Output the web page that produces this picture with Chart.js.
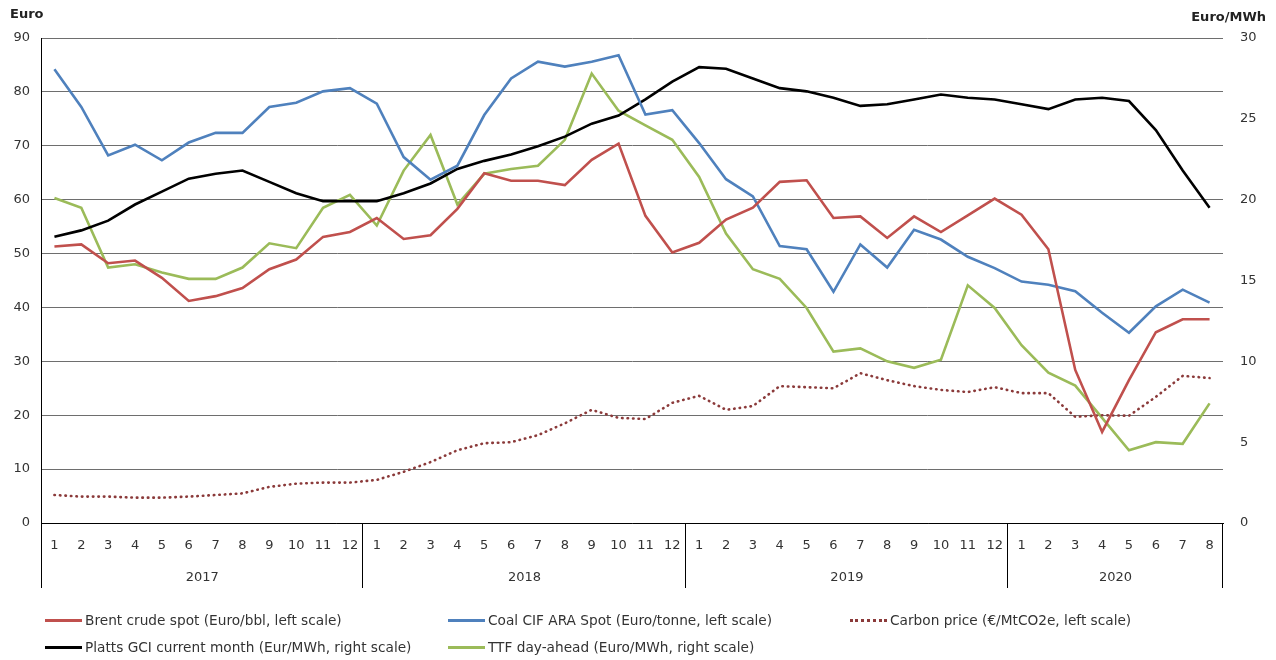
<!DOCTYPE html>
<html>
<head>
<meta charset="utf-8">
<script src="https://cdn.jsdelivr.net/npm/chart.js@4.4.0/dist/chart.umd.min.js"></script>
<style>
  body { margin: 0; background: #fff; }
  #wrap { position: relative; width: 1276px; height: 660px; }
  #legend { position: absolute; left: 0; top: 0; width: 1276px; height: 660px; pointer-events: none;
            font-family: "DejaVu Sans"; font-size: 13.7px; color: #333; }
  .item { position: absolute; display: flex; align-items: center; white-space: nowrap; transform: translateY(-50%); }
  .swatch { width: 37px; height: 0; margin-right: 3px; }
</style>
</head>
<body>
<div id="wrap">
  <canvas id="chart" width="1276" height="660"></canvas>
  <div id="legend"></div>
</div>
<script>
// months 2017-01 .. 2020-08
const monthLabels = ['1','2','3','4','5','6','7','8','9','10','11','12',
                     '1','2','3','4','5','6','7','8','9','10','11','12',
                     '1','2','3','4','5','6','7','8','9','10','11','12',
                     '1','2','3','4','5','6','7','8']
const years = ['2017', '2018', '2019', '2020']
const monthsPerYear = [12, 12, 12, 8]

// left scale (Euro)
const brent = [51.3, 51.7, 48.2, 48.7, 45.5, 41.2, 42.1, 43.6, 47.1, 48.9, 53.1, 54.0,
               56.6, 52.7, 53.4, 58.3, 64.9, 63.5, 63.5, 62.7, 67.4, 70.4, 57.0, 50.2,
               52.0, 56.3, 58.5, 63.3, 63.6, 56.6, 56.9, 52.9, 56.9, 54.0, 57.1, 60.2,
               57.2, 50.8, 28.4, 16.9, 26.5, 35.4, 37.8, 37.8]
const coal = [84.2, 77.2, 68.2, 70.2, 67.3, 70.6, 72.4, 72.4, 77.2, 78.0, 80.1, 80.7,
              77.8, 67.9, 63.7, 66.3, 75.7, 82.5, 85.6, 84.7, 85.6, 86.8, 75.8, 76.6,
              70.5, 63.8, 60.6, 51.4, 50.8, 42.9, 51.7, 47.4, 54.4, 52.6, 49.4, 47.3,
              44.8, 44.2, 43.0, 39.0, 35.3, 40.2, 43.3, 40.9]
const carbon = [5.2, 4.9, 4.9, 4.7, 4.7, 4.9, 5.2, 5.5, 6.7, 7.3, 7.5, 7.5,
                8.0, 9.5, 11.3, 13.5, 14.8, 15.0, 16.3, 18.5, 21.0, 19.5, 19.3, 22.3,
                23.6, 21.0, 21.7, 25.4, 25.2, 25.0, 27.8, 26.5, 25.4, 24.7, 24.3, 25.2,
                24.1, 24.1, 19.7, 20.0, 19.9, 23.4, 27.3, 26.9]
// right scale (Euro/MWh)
const gci = [17.7, 18.1, 18.7, 19.7, 20.5, 21.3, 21.6, 21.8, 21.1, 20.4, 19.9, 19.9,
             19.9, 20.4, 21.0, 21.9, 22.4, 22.8, 23.3, 23.9, 24.7, 25.2, 26.2, 27.3,
             28.2, 28.1, 27.5, 26.9, 26.7, 26.3, 25.8, 25.9, 26.2, 26.5, 26.3, 26.2,
             25.9, 25.6, 26.2, 26.3, 26.1, 24.3, 21.8, 19.5]
const ttf = [20.1, 19.5, 15.8, 16.0, 15.5, 15.1, 15.1, 15.8, 17.3, 17.0, 19.5, 20.3,
             18.4, 21.8, 24.0, 19.7, 21.6, 21.9, 22.1, 23.7, 27.8, 25.5, 24.6, 23.7,
             21.4, 17.9, 15.7, 15.1, 13.3, 10.6, 10.8, 10.0, 9.6, 10.1, 14.7, 13.3,
             11.0, 9.3, 8.5, 6.5, 4.5, 5.0, 4.9, 7.4]

const leftTitle = 'Euro'
const rightTitle = 'Euro/MWh'

const FONT = 'DejaVu Sans'
const TXT = '#333'

const mkLine = (label, data, color, axis, dash) => ({
    label, data,
    yAxisID: axis,
    borderColor: color,
    backgroundColor: color,
    borderWidth: 2.6,
    borderDash: dash || [],
    borderCapStyle: dash ? 'round' : 'butt',
    pointRadius: 0,
    tension: 0,
    fill: false
})

const datasets = [
    mkLine('Brent crude spot (Euro/bbl, left scale)', brent, '#C0504D', 'y'),
    mkLine('Coal CIF ARA Spot (Euro/tonne, left scale)', coal, '#4F81BD', 'y'),
    mkLine('Carbon price (€/MtCO2e, left scale)', carbon, '#8B3A3A', 'y', [0.5, 5]),
    mkLine('Platts GCI current month (Eur/MWh, right scale)', gci, '#000000', 'y1'),
    mkLine('TTF day-ahead (Euro/MWh, right scale)', ttf, '#9BBB59', 'y1')
]

// legend slots: [left, centre y]
const legendSlots = [[45, 620], [448, 620], [850, 620], [45, 647], [448, 647]]

const decor = {
    id: 'decor',
    afterDraw(chart) {
        const { ctx, chartArea: a, scales: { x } } = chart
        const step = x.getPixelForValue(1) - x.getPixelForValue(0)
        const bottom = a.bottom + 65
        ctx.save()
        ctx.strokeStyle = '#000'
        ctx.lineWidth = 1
        ctx.fillStyle = TXT
        ctx.font = `13px "${FONT}"`
        ctx.textAlign = 'center'
        ctx.textBaseline = 'middle'
        ctx.beginPath()
        ctx.moveTo(Math.round(a.left) + 0.5, a.bottom)
        ctx.lineTo(Math.round(a.left) + 0.5, bottom)
        let start = 0
        years.forEach((yr, k) => {
            const n = monthsPerYear[k]
            const xr = Math.round(x.getPixelForValue(start + n - 1) + step / 2) - 0.5
            ctx.moveTo(xr, a.bottom)
            ctx.lineTo(xr, bottom)
            const xc = (x.getPixelForValue(start) + x.getPixelForValue(start + n - 1)) / 2
            ctx.fillText(yr, xc, a.bottom + 55)
            start += n
        })
        ctx.stroke()

        ctx.font = `bold 13px "${FONT}"`
        ctx.fillStyle = '#222'
        ctx.textAlign = 'left'
        ctx.fillText(leftTitle, 10, 15)
        ctx.textAlign = 'right'
        ctx.fillText(rightTitle, 1266, 18)
        ctx.restore()
    }
}

const chart = new Chart(document.getElementById('chart'), {
    type: 'line',
    data: { labels: monthLabels, datasets },
    options: {
        responsive: false,
        animation: false,
        layout: { padding: { left: 0, right: 0, top: 38, bottom: 72 } },
        plugins: { legend: { display: false }, tooltip: { enabled: false } },
        scales: {
            x: {
                offset: true,
                grid: { display: false, drawTicks: false },
                border: { display: true, color: '#000', width: 1 },
                ticks: { color: TXT, font: { family: FONT, size: 13 }, padding: 15, autoSkip: false, maxRotation: 0 },
                afterFit: s => { s.height = 65 }
            },
            y: {
                position: 'left',
                min: 0, max: 90,
                ticks: { stepSize: 10, color: TXT, font: { family: FONT, size: 13 }, padding: 11 },
                grid: { color: '#6e6e6e', drawTicks: false, lineWidth: 1 },
                border: { display: true, color: '#000', width: 1 },
                afterFit: s => { s.width = 41 }
            },
            y1: {
                position: 'right',
                min: 0, max: 30,
                ticks: { stepSize: 5, color: TXT, font: { family: FONT, size: 13 }, padding: 17 },
                grid: { display: false, drawTicks: false },
                border: { display: false },
                afterFit: s => { s.width = 53 }
            }
        }
    },
    plugins: [decor]
})

// html legend, two rows like the original
const legendBox = document.getElementById('legend')
datasets.forEach((ds, i) => {
    const [left, cy] = legendSlots[i]
    const item = document.createElement('div')
    item.className = 'item'
    item.style.left = left + 'px'
    item.style.top = cy + 'px'
    const sw = document.createElement('span')
    sw.className = 'swatch'
    sw.style.borderTop = ds.borderDash.length ? `3px dotted ${ds.borderColor}` : `3px solid ${ds.borderColor}`
    const tx = document.createElement('span')
    tx.textContent = ds.label
    item.appendChild(sw)
    item.appendChild(tx)
    legendBox.appendChild(item)
})
</script>
</body>
</html>
